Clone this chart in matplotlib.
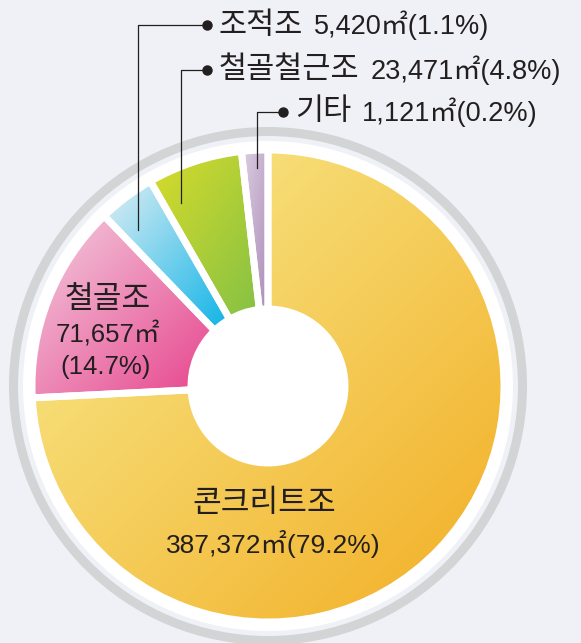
import numpy as np
import matplotlib.pyplot as plt
from matplotlib import font_manager
from matplotlib.colors import to_rgb
from matplotlib.patches import Circle

# Data
structures = ['콘크리트조', '철골조', '조적조', '철골철근조', '기타']
areas = [387372, 71657, 5420, 23471, 1121]
percents = [79.2, 14.7, 1.1, 4.8, 0.2]
# share of the circle each slice takes in the drawing (the small ones are drawn enlarged)
drawn_share = [74.2, 13.6, 3.9, 6.5, 1.8]

# gradient colours, light (top left) -> dark (bottom right)
grad_start = ['#f8ee94', '#f3d0e0', '#e2eff4', '#dadc2a', '#ddd0e1']
grad_end = ['#f2ad22', '#e7428c', '#0db3e6', '#84c145', '#ad8cba']

W, H = 581, 643
BG = '#eff1f6'
INK = '#231f20'

installed = {f.name for f in font_manager.fontManager.ttflist}
num_font = 'Liberation Sans Narrow' if 'Liberation Sans Narrow' in installed else 'Liberation Sans'
narrow = num_font.endswith('Narrow')
kr_font = ['Noto Sans CJK KR', 'DejaVu Sans']
num_fonts = [num_font, 'Noto Sans CJK KR']
# a narrow font can be a bit bigger for the same room
ns = 1.1 if narrow else 1.0

fig = plt.figure(figsize=(W / 100, H / 100), dpi=100, facecolor=BG)
ax = fig.add_axes([0, 0, 1, 1])
ax.set_facecolor(BG)

# pie centre and radii in pixels (y measured from the bottom)
cx, cy = 268, H - 386
r_out, r_in = 236, 77

# grey ring and white band behind the slices
ax.add_patch(Circle((cx, cy), 254.5, fill=False, ec='#d3d4d6', lw=6.5, zorder=0))
ax.add_patch(Circle((cx, cy), 245, fc='white', ec='none', zorder=0))

wedges, _ = ax.pie(drawn_share, center=(cx, cy), radius=r_out, startangle=90,
                   counterclock=False,
                   wedgeprops=dict(width=r_out - r_in, edgecolor='white', linewidth=5))

# gradient fill clipped to each slice
n = 200
u, v = np.meshgrid(np.linspace(0, 1, n), np.linspace(0, 1, n))
t = (u + (1 - v)) / 2
for i, w in enumerate(wedges):
    if i == 0:
        x0, x1, y0, y1 = cx - r_out, cx + r_out, cy - r_out, cy + r_out
    else:
        b = w.get_path().get_extents()
        x0, x1, y0, y1 = b.x0, b.x1, b.y0, b.y1
    c0 = np.array(to_rgb(grad_start[i]))
    c1 = np.array(to_rgb(grad_end[i]))
    img = c0 + (c1 - c0) * t[..., None]
    im = ax.imshow(img, extent=(x0, x1, y0, y1), origin='lower',
                   interpolation='bilinear', zorder=1)
    im.set_clip_path(w)
    w.set_facecolor('none')
    w.set_zorder(2)

ax.set_xlim(0, W)
ax.set_ylim(0, H)
ax.set_aspect('auto')
ax.axis('off')

# labels inside the two big slices
def value_text(i):
    return f'{areas[i]:,}㎡({percents[i]}%)'

ax.text(264, H - 503, structures[0], ha='center', va='center', fontsize=22.5,
        family=kr_font, color=INK, zorder=3)
ax.text(273, H - 544, value_text(0), ha='center', va='center', fontsize=19 * ns,
        family=num_fonts, color=INK, zorder=3)
ax.text(108, H - 299, structures[1], ha='center', va='center', fontsize=22.5,
        family=kr_font, color=INK, zorder=3)
ax.text(108, H - 335, f'{areas[1]:,}㎡', ha='center', va='center', fontsize=18.5 * ns,
        family=num_fonts, color=INK, zorder=3)
ax.text(106, H - 367, f'({percents[1]}%)', ha='center', va='center', fontsize=18.5 * ns,
        family=num_fonts, color=INK, zorder=3)

# callouts for the three small slices: (slice, line x, line bottom, elbow y, dot x)
callouts = [(2, 138, 230, 25, 207),
            (3, 181, 203, 70, 207),
            (4, 257, 168, 112, 283)]
renderer = fig.canvas.get_renderer()
for i, lx, ly, ey, dx in callouts:
    ax.plot([lx, lx, dx], [H - ly, H - ey, H - ey], color=INK, lw=0.9, zorder=4)
    ax.plot(dx, H - ey, 'o', color=INK, ms=6.5, zorder=4)
    lab = ax.text(dx + 12, H - ey, structures[i], ha='left', va='center',
                  fontsize=22, family=kr_font, color=INK, zorder=4)
    ext = lab.get_window_extent(renderer)
    x_end = ax.transData.inverted().transform((ext.x1, ext.y0))[0]
    ax.text(x_end + 11, H - ey, value_text(i), ha='left', va='center',
            fontsize=19.5 * ns, family=num_fonts, color=INK, zorder=4)

fig.savefig('out.png', dpi=100, facecolor=BG)
